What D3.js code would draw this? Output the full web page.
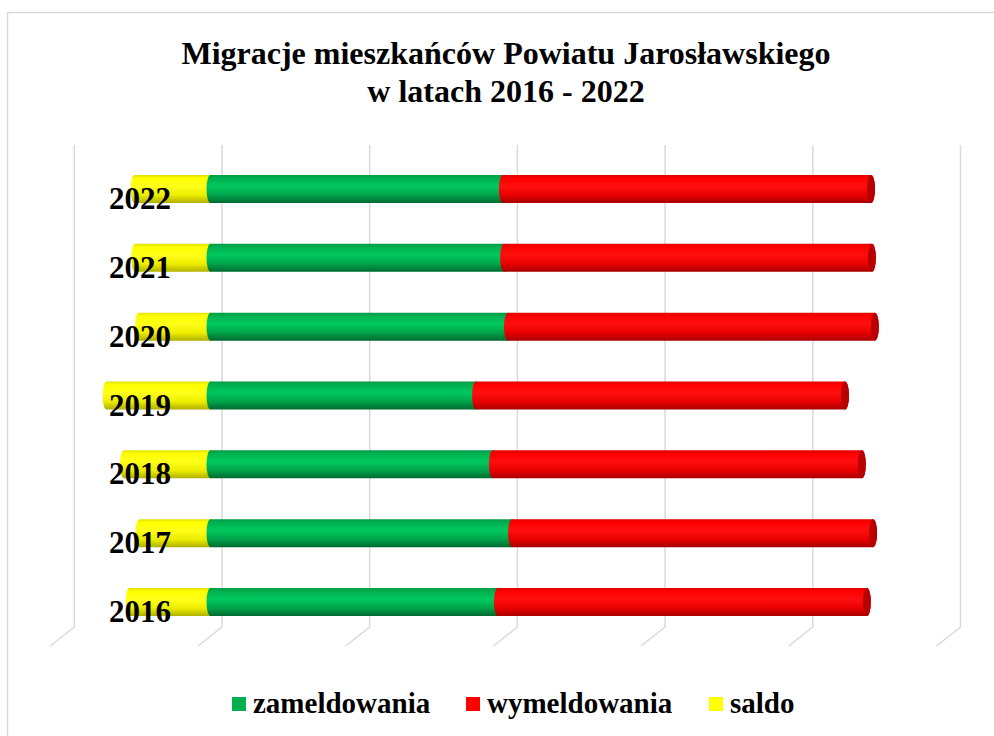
<!DOCTYPE html>
<html lang="pl">
<head>
  <meta charset="UTF-8">
  <title>Migracje mieszkańców Powiatu Jarosławskiego</title>
  <style>
    body {
      margin: 0;
      padding: 0;
      background-color: white;
    }
    svg {
      display: block;
    }
    text {
      font-family: "Liberation Serif", "Times New Roman", serif;
      font-weight: bold;
      fill: black;
    }
  </style>
  <script src="https://cdn.jsdelivr.net/npm/d3@7"></script>
</head>
<body>
  <div id="chart"></div>
  <script>
    // values
    const years = ["2016", "2017", "2018", "2019", "2020", "2021", "2022"];
    const zameldowania = [973, 1021, 956, 899, 1007, 994, 990];
    const wymeldowania = [1249, 1222, 1249, 1249, 1242, 1245, 1246];
    const saldo = [-274, -240, -293, -352, -242, -255, -257];
    const gridTicks = [-500, 0, 500, 1000, 1500, 2000, 2500];
    const seriesNames = ["zameldowania", "wymeldowania", "saldo"];

    const rows = years.map((y, i) => ({
      year: y,
      zam: zameldowania[i],
      wym: wymeldowania[i],
      saldo: saldo[i]
    }));

    const width = 994, height = 736;
    const depthX = 11.5;      // back wall offset of the 3D grid
    const floorDx = -24, floorDy = 19;
    const capR = 4;

    const svg = d3.select("#chart")
      .append("svg")
      .attr("width", width)
      .attr("height", height);

    const defs = svg.append("defs");

    const colors = {
      zameldowania: ["#009a46", "#00b050", "#00c95e", "#00a34a", "#006a30"],
      wymeldowania: ["#e00000", "#ff0000", "#ff0f0f", "#e80000", "#a80000"],
      saldo: ["#e0e000", "#ffff00", "#ffff1a", "#eded00", "#b0b000"]
    };
    const legendColor = { zameldowania: "#00b050", wymeldowania: "#ff0000", saldo: "#ffff00" };

    Object.keys(colors).forEach(k => {
      const g = defs.append("linearGradient")
        .attr("id", "grad-" + k)
        .attr("x1", 0).attr("y1", 0).attr("x2", 0).attr("y2", 1);
      [0, 0.12, 0.4, 0.72, 1].forEach((o, i) => {
        g.append("stop").attr("offset", o).attr("stop-color", colors[k][i]);
      });
    });

    // frame
    svg.append("rect")
      .attr("x", 7.5)
      .attr("y", 12.5)
      .attr("width", 1010)
      .attr("height", 760)
      .attr("fill", "none")
      .attr("stroke", "#d9d9d9")
      .attr("stroke-width", 1.5);

    const xScale = d3.scaleLinear()
      .domain([-500, 2500])
      .range([62.8, 949]);

    const yScale = d3.scaleBand()
      .domain(years.slice().reverse())
      .range([154.6, 636.4])
      .paddingInner(0.593)
      .paddingOuter(0.2965);

    const gridTop = 145, gridBottom = 627;

    // 3D grid: back wall verticals plus floor slant
    const grid = svg.append("g").attr("class", "grid");
    grid.selectAll("path")
      .data(gridTicks)
      .enter()
      .append("path")
      .attr("d", d => {
        const gx = xScale(d) + depthX;
        return `M${gx},${gridTop}V${gridBottom}l${floorDx},${floorDy}`;
      })
      .attr("fill", "none")
      .attr("stroke", "#d9d9d9")
      .attr("stroke-width", 1.5);

    // cylinder segment path from x0 to x1 (x0 < x1)
    function cyl(x0, x1, yTop, h) {
      const ry = h / 2;
      return `M${x0},${yTop}` +
        `A${capR},${ry} 0 0 0 ${x0},${yTop + h}` +
        `L${x1},${yTop + h}` +
        `A${capR},${ry} 0 0 0 ${x1},${yTop}Z`;
    }

    const bw = yScale.bandwidth();
    const bars = svg.append("g").attr("class", "bars");

    // saldo (negative, drawn first)
    bars.selectAll(".saldo")
      .data(rows)
      .enter()
      .append("path")
      .attr("class", "saldo")
      .attr("d", d => cyl(xScale(d.saldo), xScale(0), yScale(d.year), bw))
      .attr("fill", "url(#grad-saldo)");

    bars.selectAll(".zam")
      .data(rows)
      .enter()
      .append("path")
      .attr("class", "zam")
      .attr("d", d => cyl(xScale(0), xScale(d.zam), yScale(d.year), bw))
      .attr("fill", "url(#grad-zameldowania)");

    bars.selectAll(".wym")
      .data(rows)
      .enter()
      .append("path")
      .attr("class", "wym")
      .attr("d", d => cyl(xScale(d.zam), xScale(d.zam + d.wym), yScale(d.year), bw))
      .attr("fill", "url(#grad-wymeldowania)");

    // visible end cap of the red cylinder
    bars.selectAll(".cap")
      .data(rows)
      .enter()
      .append("ellipse")
      .attr("class", "cap")
      .attr("cx", d => xScale(d.zam + d.wym))
      .attr("cy", d => yScale(d.year) + bw / 2)
      .attr("rx", capR)
      .attr("ry", bw / 2)
      .attr("fill", "#b80000");

    // year labels
    svg.append("g")
      .selectAll("text")
      .data(years)
      .enter()
      .append("text")
      .attr("x", 171)
      .attr("y", d => yScale(d) + bw / 2 + 20)
      .attr("text-anchor", "end")
      .style("font-size", "31px")
      .text(d => d);

    // title
    const title = svg.append("text")
      .attr("x", 506)
      .attr("text-anchor", "middle")
      .style("font-size", "32px");
    title.append("tspan").attr("x", 506).attr("y", 64).text("Migracje mieszkańców Powiatu Jarosławskiego");
    title.append("tspan").attr("x", 506).attr("y", 102).text("w latach 2016 - 2022");

    // legend
    const legendX = [232, 466, 709];
    const legend = svg.append("g");
    const entries = legend.selectAll("g")
      .data(seriesNames)
      .enter()
      .append("g")
      .attr("transform", (d, i) => `translate(${legendX[i]}, 697)`);
    entries.append("rect")
      .attr("width", 14)
      .attr("height", 14)
      .attr("fill", d => legendColor[d]);
    entries.append("text")
      .attr("x", 21)
      .attr("y", 16)
      .style("font-size", "29px")
      .text(d => d);
  </script>
</body>
</html>
